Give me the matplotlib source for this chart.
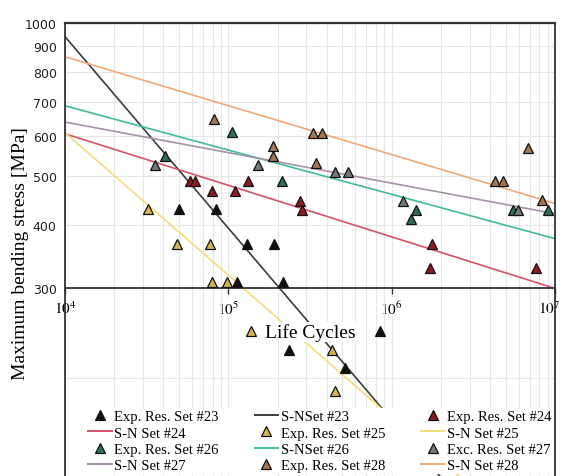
import matplotlib
matplotlib.use("Agg")
import matplotlib.pyplot as plt
from matplotlib.lines import Line2D
from matplotlib.ticker import NullLocator, FixedLocator, LogLocator, NullFormatter
import matplotlib.transforms as mtransforms

plt.rcParams['mathtext.fontset'] = 'stix'

# ---------------- data ----------------
exp23_N = [50000, 84000, 113000, 130000, 190000, 216000, 235000, 518000, 849000]
exp23_S = [430, 430, 309, 367, 367, 309, 227, 209, 247]

exp24_N = [58300, 62500, 79500, 110000, 132000, 275000, 283000, 1768000, 1719000, 7660000]
exp24_S = [489, 489, 467, 467, 489, 446, 428, 367, 329, 329]

exp25_N = [32200, 48500, 77300, 79500, 98200, 137700, 431500, 450100]
exp25_S = [430, 367, 367, 309, 309, 247, 227, 188]

exp26_N = [41000, 105400, 213300, 1411000, 1315000, 5540000, 9070000]
exp26_S = [547, 610, 489, 428, 411, 428, 428]

exp27_N = [35600, 152000, 450000, 541000, 1174000, 5940000]
exp27_S = [525, 525, 509, 509, 446, 428]

exp28_N = [81700, 330000, 375000, 187800, 187800, 344400, 4300000, 4810000, 6840000, 8340000]
exp28_S = [647, 607, 607, 573, 547, 530, 489, 489, 567, 448]

sn_N = [1e4, 1e7]
sn23_S = [940, 69.4]
sn24_S = [605, 300]
sn25_S = [608, 87.5]
sn26_S = [687, 376]
sn27_S = [638, 421]
sn28_S = [858, 441]

y_ticks = [200, 300, 400, 500, 600, 700, 800, 900, 1000]
y_ticklabels = ['', '300', '400', '500', '600', '700', '800', '900', '1000']
x_ticks = [1e4, 1e5, 1e6, 1e7]
x_ticklabels = [r'$10^{4}$', r'$10^{5}$', r'$10^{6}$', r'$10^{7}$']

legend_labels = ["Exp. Res. Set #23", "S-NSet #23", "Exp. Res. Set #24",
                 "S-N Set #24", "Exp. Res. Set #25", "S-N Set #25",
                 "Exp. Res. Set #26", "S-NSet #26", "Exc. Res. Set #27",
                 "S-N Set #27", "Exp. Res. Set #28", "S-N Set #28"]

# ---------------- styles ----------------
mcol = {23: '#111111', 24: '#8E1B1F', 25: '#D2B450', 26: '#2E6E58', 27: '#6F7878', 28: '#A27652'}
lcol = {23: '#3C3C3C', 24: '#D8506A', 25: '#F2DC7C', 26: '#3EBB9E', 27: '#A493A6', 28: '#F0A878'}

W, H = 564, 477
fig = plt.figure(figsize=(W / 100, H / 100), dpi=100)
left_px, right_px, top_px = 65, 555, 24
ax = fig.add_axes([left_px / W, 0, (right_px - left_px) / W, 1 - top_px / H])
ax.set_xscale('log')
ax.set_yscale('log')
ax.set_xlim(1e4, 1e7)
ax.set_ylim(128.1, 1000)

exp_sets = [(23, exp23_N, exp23_S), (24, exp24_N, exp24_S), (25, exp25_N, exp25_S),
            (26, exp26_N, exp26_S), (27, exp27_N, exp27_S), (28, exp28_N, exp28_S)]
sn_sets = [(23, sn23_S), (24, sn24_S), (25, sn25_S), (26, sn26_S), (27, sn27_S), (28, sn28_S)]

for k, s in sn_sets:
    ax.plot(sn_N, s, color=lcol[k], lw=1.2, zorder=2, solid_capstyle='butt')
for k, n, s in exp_sets:
    ax.plot(n, s, linestyle='none', marker='^', ms=7, mfc=mcol[k], mec='#111111',
            mew=0.9, zorder=3, clip_on=False)

# spines
for sp in ['left', 'right', 'top', 'bottom']:
    ax.spines[sp].set_color('#333333')
    ax.spines[sp].set_linewidth(1.3)
ax.spines['bottom'].set_position(('data', 300))
ax.spines['top'].set_linewidth(1.6)

# ticks
ax.xaxis.set_major_locator(FixedLocator(x_ticks))
ax.set_xticklabels(x_ticklabels, fontsize=11)
ax.xaxis.set_minor_locator(LogLocator(base=10, subs=range(2, 10), numticks=20))
ax.xaxis.set_minor_formatter(NullFormatter())
ax.tick_params(axis='x', which='major', direction='out', length=4, width=1, color='#333333', pad=4)
ax.tick_params(axis='x', which='minor', length=0)
ax.yaxis.set_major_locator(FixedLocator(y_ticks))
ax.set_yticklabels(y_ticklabels, fontsize=9, family='DejaVu Sans', color='#222222')
ax.yaxis.set_minor_locator(NullLocator())
ax.tick_params(axis='y', which='major', length=0, pad=6)
xlabels = ax.get_xticklabels()
for lbl in xlabels:
    lbl.set_bbox(dict(facecolor='white', edgecolor='none', pad=1))
# nudge the last label slightly left so it stays inside the figure
shift = mtransforms.ScaledTranslation(-6 / 100, 0, fig.dpi_scale_trans)
xlabels[-1].set_transform(xlabels[-1].get_transform() + shift)

ax.grid(True, which='both', axis='x', color='#E6E6E6', lw=0.8, zorder=0)
ax.grid(True, which='major', axis='y', color='#E6E6E6', lw=0.8, zorder=0)
ax.set_axisbelow(True)

# labels
ax.text(0.5, 0.318, 'Life Cycles', transform=ax.transAxes, ha='center', va='center',
        fontsize=14, family='Liberation Serif', zorder=4,
        bbox=dict(facecolor='white', edgecolor='none', pad=1))
fig.text(21 / W, 1 - 254 / H, 'Maximum bending stress [MPa]', rotation=90,
         ha='center', va='center', fontsize=14, family='Liberation Serif')

# legend (row-major order)
entries = []
for k in [23, 24, 25, 26, 27, 28]:
    entries.append(Line2D([], [], linestyle='none', marker='^', ms=7, mfc=mcol[k],
                          mec='#111111', mew=0.9))
    entries.append(Line2D([], [], color=lcol[k], lw=1.4))
order = [i * 3 + c for c in range(3) for i in range(4)]
leg = fig.legend([entries[i] for i in order], [legend_labels[i] for i in order],
                 loc='upper left', bbox_to_anchor=(86 / W, 1 - 409 / H),
                 bbox_transform=fig.transFigure, ncol=3, frameon=True,
                 facecolor='white', edgecolor='none', framealpha=1,
                 prop={'family': 'Liberation Serif', 'size': 10.5},
                 borderpad=0.15, labelspacing=0.2, columnspacing=2.45,
                 handlelength=1.6, handletextpad=0.2, borderaxespad=0)
leg.set_zorder(6)

fig.savefig('out.png', dpi=100)
